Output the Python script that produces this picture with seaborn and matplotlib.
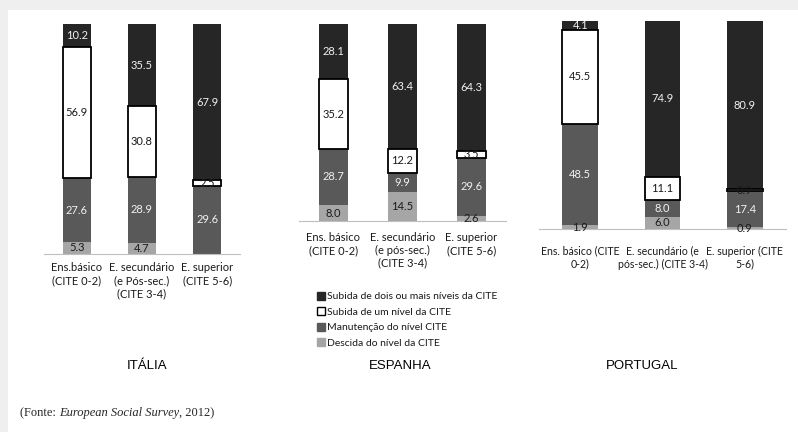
import numpy as np
import pandas as pd
import matplotlib
matplotlib.use("Agg")
import matplotlib.pyplot as plt
from matplotlib.patches import Patch, Rectangle
import seaborn as sns

# Series (stacked from top to bottom in the legend)
series_names = [
    "Subida de dois ou mais níveis da CITE",
    "Subida de um nível da CITE",
    "Manutenção do nível CITE",
    "Descida do nível da CITE",
]
series_colors = ["#262626", "#ffffff", "#595959", "#a6a6a6"]

# Itália
italia_categorias = ["Ens.básico\n(CITE 0-2)",
                     "E. secundário\n(e Pós-sec.)\n(CITE 3-4)",
                     "E. superior\n(CITE 5-6)"]
italia_dois = [10.2, 35.5, 67.9]
italia_um = [56.9, 30.8, 2.5]
italia_manut = [27.6, 28.9, 29.6]
italia_desc = [5.3, 4.7, 0.0]

# Espanha
espanha_categorias = ["Ens. básico\n(CITE 0-2)",
                      "E. secundário\n(e pós-sec.)\n(CITE 3-4)",
                      "E. superior\n(CITE 5-6)"]
espanha_dois = [28.1, 63.4, 64.3]
espanha_um = [35.2, 12.2, 3.5]
espanha_manut = [28.7, 9.9, 29.6]
espanha_desc = [8.0, 14.5, 2.6]

# Portugal
portugal_categorias = ["Ens. básico (CITE\n0-2)",
                       "E. secundário (e\npós-sec.) (CITE 3-4)",
                       "E. superior (CITE\n5-6)"]
portugal_dois = [4.1, 74.9, 80.9]
portugal_um = [45.5, 11.1, 0.9]
portugal_manut = [48.5, 8.0, 17.4]
portugal_desc = [1.9, 6.0, 0.9]

paises = ["ITÁLIA", "ESPANHA", "PORTUGAL"]

sns.set_style("white")
plt.rcParams["font.family"] = ["Lato", "DejaVu Sans"]

W, H = 798, 432
fig = plt.figure(figsize=(W / 100, H / 100), dpi=100)
fig.patch.set_facecolor("#efefef")
fig.add_artist(Rectangle((8 / W, 0), 1 - 8 / W, 1 - 10 / H, transform=fig.transFigure,
                         facecolor="white", edgecolor="none", zorder=0))


def px_axes(left, right, top, bottom):
    return fig.add_axes([left / W, 1 - bottom / H, (right - left) / W, (bottom - top) / H])


TXT = "#1a1a1a"


def draw_panel(ax, categorias, dois, um, manut, desc, pad, tick_size=8):
    df = pd.DataFrame({"categoria": categorias, "dois": dois, "um": um,
                       "manut": manut, "desc": desc})
    layers = [
        ("desc", series_colors[3], "none", 0, 2),
        ("manut", series_colors[2], "none", 0, 2),
        ("dois", series_colors[0], "none", 0, 2),
        ("um", series_colors[1], "black", 1.3, 3),
    ]
    bottoms = {"desc": np.zeros(3)}
    bottoms["manut"] = bottoms["desc"] + df["desc"].values
    bottoms["um"] = bottoms["manut"] + df["manut"].values
    bottoms["dois"] = bottoms["um"] + df["um"].values
    for key, color, edge, lw, z in layers:
        sns.barplot(data=df, x="categoria", y=key, bottom=bottoms[key], color=color,
                    saturation=1, width=0.43, errorbar=None, edgecolor=edge,
                    linewidth=lw, zorder=z, ax=ax)
        vals = df[key].values
        labels = [f"{v:.1f}" if v > 0 else "" for v in vals]
        texts = ax.bar_label(ax.containers[-1], labels=labels, label_type="center",
                             fontsize=8, zorder=6)
        for t in texts:
            t.set_color("#f2f2f2" if key in ("dois", "manut") else TXT)
    ax.set_xlim(-0.5, 2.5)
    ax.set_ylim(0, 100)
    ax.set_xticks(range(3))
    ax.set_xticklabels(categorias, fontsize=tick_size, color=TXT, linespacing=1.2)
    ax.tick_params(axis="x", which="major", length=0, pad=pad)
    ax.set_xticks([-0.5, 0.5, 1.5, 2.5], minor=True)
    ax.tick_params(axis="x", which="minor", length=4, width=0.8, color="#bfbfbf",
                   direction="out")
    ax.set_yticks([])
    ax.set_xlabel("")
    ax.set_ylabel("")
    for s in ["left", "right", "top"]:
        ax.spines[s].set_visible(False)
    ax.spines["bottom"].set_color("#bfbfbf")
    ax.spines["bottom"].set_linewidth(0.8)
    ax.patch.set_alpha(0)


ax_it = px_axes(44, 240, 24, 254)
draw_panel(ax_it, italia_categorias, italia_dois, italia_um, italia_manut, italia_desc, 6)
ax_es = px_axes(299, 506, 24, 221)
draw_panel(ax_es, espanha_categorias, espanha_dois, espanha_um, espanha_manut, espanha_desc, 8)
ax_pt = px_axes(539, 786, 21, 229)
draw_panel(ax_pt, portugal_categorias, portugal_dois, portugal_um, portugal_manut,
           portugal_desc, 12, tick_size=7.6)

# Legend
handles = [Patch(facecolor=c, edgecolor=("black" if c == "#ffffff" else c), linewidth=1.0)
           for c in series_colors]
fig.legend(handles, series_names, loc="upper left", bbox_to_anchor=(317 / W, 1 - 292 / H),
           frameon=False, fontsize=7.5, handlelength=0.75, handleheight=0.75,
           handletextpad=0.25, labelspacing=0.58, borderaxespad=0, borderpad=0,
           labelcolor=TXT)

# Country titles
for nome, cx in zip(paises, [147, 400, 642]):
    fig.text(cx / W, 1 - 366 / H, nome, ha="center", va="center",
             family="Liberation Sans", fontsize=9.5, color="black")

# Source line with italic survey name
serif = "Liberation Serif"
ybase = 1 - 419 / H
t1 = fig.text(20 / W, ybase, "(Fonte: ", family=serif, fontsize=9, va="bottom")
t2 = fig.text(0, 0, "European Social Survey", family=serif, fontsize=9, style="italic",
              va="bottom")
t3 = fig.text(0, 0, ", 2012)", family=serif, fontsize=9, va="bottom")
renderer = fig.canvas.get_renderer()
x = t1.get_window_extent(renderer).x1
t2.set_position((x / W, ybase))
x = t2.get_window_extent(renderer).x1
t3.set_position((x / W, ybase))

fig.savefig("out.png", dpi=100, facecolor=fig.get_facecolor())
